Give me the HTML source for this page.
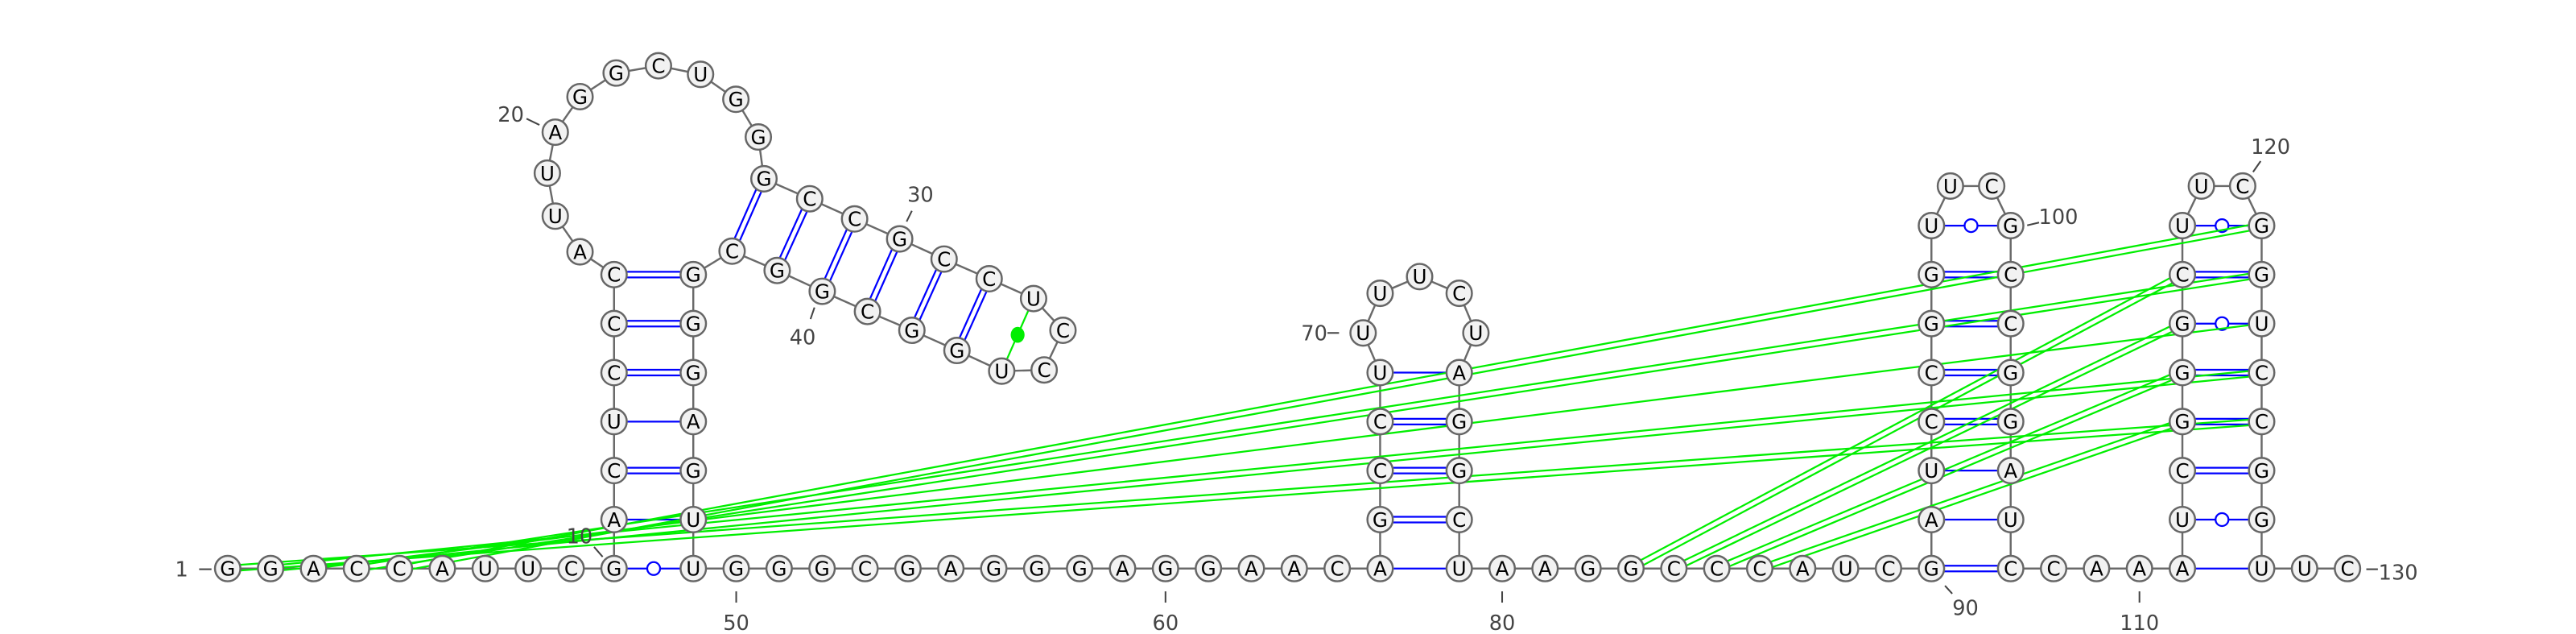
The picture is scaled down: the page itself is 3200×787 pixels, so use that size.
<!DOCTYPE html>
<html><head><meta charset="utf-8"><style>
html,body{margin:0;padding:0;background:#fff;}
svg{display:block;}
</style></head><body>
<svg id="rna" xmlns="http://www.w3.org/2000/svg" width="3200" height="787" viewBox="0 0 1560.2 383.7" preserveAspectRatio="none">
<rect width="1560.2" height="383.7" fill="#fff"/>
<g id="gBack"></g><g id="gPair"></g><g id="gPk"></g><g id="gNode"></g><g id="gLab"></g>
</svg>
<script>
const sequence = ("GGACCAUUCG"+"ACUCCC"+"AUUAGGCUGG"+"GCCGCCUCCUGGCGGC"+"GGGAGU"+"UGGGCGAGGGAGGAACA"+"GCCU"+"UUUCU"+"AGGCU"+"AAGGCCCAUCG"+"AUCCGGU"+"UC"+"GCCGGAUC"+"CAAA"+"UCGGGCU"+"UC"+"GGUCCGGU"+"UC").split("");
const pairI = [10,11,12,13,14,15,16, 27,28,29,30,31,32, 65,66,67,68,69, 90,91,92,93,94,95,96,97, 111,112,113,114,115,116,117,118];
const pairJ = [49,48,47,46,45,44,43, 42,41,40,39,38,37, 79,78,77,76,75, 107,106,105,104,103,102,101,100, 128,127,126,125,124,123,122,121];
const pairT = ["w","s","c","s","c","c","c", "c","c","c","c","c","c", "s","c","c","c","s", "c","s","s","c","c","c","c","w", "s","w","c","c","c","w","c","w"];
const pkI = [1,2,3,4,5,83,84,85,86];
const pkJ = [125,124,123,122,121,117,116,115,114];
const pkT = ["c","c","s","c","c","c","c","c","c"];
const nonCanI = [33];
const nonCanJ = [36];
const labelNums = [1,10,20,30,40,50,60,70,80,90,100,110,120,130];

const NS="http://www.w3.org/2000/svg";
function mk(tag,attrs,parent){const e=document.createElementNS(NS,tag);for(const k in attrs)e.setAttribute(k,attrs[k]);parent.appendChild(e);return e;}
const BY=344.1, ROW=29.65;
function row(k){return BY-ROW*k;}
const P={};
function setP(i,x,y){P[i]=[x,y];}
for(let i=1;i<=10;i++)setP(i,137.9+(i-1)*26,BY);
for(let i=49;i<=65;i++)setP(i,419.9+(i-49)*26,BY);
for(let i=79;i<=90;i++)setP(i,883.8+(i-79)*26,BY);
for(let i=107;i<=111;i++)setP(i,1217.8+(i-107)*26,BY);
for(let i=128;i<=130;i++)setP(i,1369.8+(i-128)*26,BY);
for(let k=1;k<=6;k++){setP(10+k,371.9,row(k));setP(49-k,419.9,row(k));}
const loop1=[[351.3,152.4],[336.3,130.8],[331.5,104.8],[336.3,80.0],[351.3,58.5],[373.2,44.2],[398.8,39.8],[424.3,45.0],[445.7,60.1],[459.3,82.9]];
loop1.forEach((p,n)=>setP(17+n,p[0],p[1]));
const st2=[[462.7,108.2],[490.4,120.3],[517.6,132.5],[544.9,144.6],[571.8,156.8],[599.1,168.7],[626.0,180.7],[643.8,199.9],[632.4,223.9],[606.7,224.6],[579.6,212.1],[552.3,199.9],[525.4,188.5],[498.0,176.3],[470.7,163.7],[443.4,152.0]];
st2.forEach((p,n)=>setP(27+n,p[0],p[1]));
for(let k=1;k<=4;k++){setP(65+k,835.9,row(k));setP(79-k,883.8,row(k));}
[[825.6,201.5],[835.9,177.5],[859.8,167.4],[883.8,177.5],[893.9,201.5]].forEach((p,n)=>setP(70+n,p[0],p[1]));
for(let k=1;k<=7;k++){setP(90+k,1169.8,row(k));setP(107-k,1217.8,row(k));setP(111+k,1321.8,row(k));setP(128-k,1369.8,row(k));}
setP(98,1181.3,112.6);setP(99,1206.3,112.6);setP(119,1333.3,112.6);setP(120,1358.3,112.6);

const gB=document.getElementById('gBack'),gP=document.getElementById('gPair'),gK=document.getElementById('gPk'),gN=document.getElementById('gNode'),gL=document.getElementById('gLab');
for(let i=1;i<sequence.length;i++){
  const a=P[i],b=P[i+1];
  const l=mk('line',{x1:a[0],y1:a[1],x2:b[0],y2:b[1],stroke:'#6a6a6a','stroke-width':1.2},gB);
  
  
}
function pairLines(parent,i,j,t,color,name){
  const a=P[i],b=P[j];const dx=b[0]-a[0],dy=b[1]-a[1];const L=Math.hypot(dx,dy);const nx=-dy/L,ny=dx/L;
  const g=mk('g',{},parent);
  
  
  if(t==='c'){
    const o=1.7;
    mk('line',{x1:a[0]+nx*o,y1:a[1]+ny*o,x2:b[0]+nx*o,y2:b[1]+ny*o,stroke:color,'stroke-width':1.1},g);
    mk('line',{x1:a[0]-nx*o,y1:a[1]-ny*o,x2:b[0]-nx*o,y2:b[1]-ny*o,stroke:color,'stroke-width':1.1},g);
  } else {
    mk('line',{x1:a[0],y1:a[1],x2:b[0],y2:b[1],stroke:color,'stroke-width':1.1},g);
    if(t==='w') mk('circle',{cx:(a[0]+b[0])/2,cy:(a[1]+b[1])/2,r:3.9,fill:'#fff',stroke:color,'stroke-width':1.1},g);
  }
}
for(let n=0;n<pairI.length;n++) pairLines(gP,pairI[n],pairJ[n],pairT[n],'#0000ff','base-pair-'+pairI[n]+'-'+pairJ[n]);
for(let n=0;n<pkI.length;n++) pairLines(gK,pkI[n],pkJ[n],pkT[n],'#00ee00','pseudoknot-pair-'+pkI[n]+'-'+pkJ[n]);
for(let n=0;n<nonCanI.length;n++){
  const a=P[nonCanI[n]],b=P[nonCanJ[n]];
  const g=mk('g',{},gK);
  
  
  mk('line',{x1:a[0],y1:a[1],x2:b[0],y2:b[1],stroke:'#00ee00','stroke-width':1.1},g);
  mk('ellipse',{cx:(a[0]+b[0])/2,cy:(a[1]+b[1])/2,rx:4.2,ry:4.8,fill:'#00ee00'},g);
}
for(let i=1;i<=sequence.length;i++){
  const p=P[i];
  const g=mk('g',{},gN);
  
  
  mk('circle',{cx:p[0],cy:p[1],r:7.7,fill:'#f2f2f2',stroke:'#666','stroke-width':1.2},g);
  const t=mk('text',{x:p[0],y:p[1]+4.3,'text-anchor':'middle','font-family':'DejaVu Sans, Liberation Sans, sans-serif','font-size':12,fill:'#000'},g);
  t.textContent=sequence[i-1];
}
// labels: [num, textX, textY, anchor, tickX1,tickY1,tickX2,tickY2]
const labPos={1:[110,344.5,'middle',120.6,344.5,128.1,344.5],10:[351,324.5,'middle',359.8,331,365,337],20:[309.4,69.1,'middle',318.9,71.8,326.7,75.6],
30:[557.5,117.8,'middle',552.3,127.6,549.1,134.1],40:[486.1,204,'middle',493.3,186.1,490.9,193.1],50:[P[50][0],376.9,'middle',P[50][0],357.9,P[50][0],364.7],
60:[P[60][0],376.9,'middle',P[60][0],357.9,P[60][0],364.7],70:[796,201.5,'middle',804,201.5,811,201.5],80:[P[80][0],376.9,'middle',P[80][0],357.9,P[80][0],364.7],
90:[1190.4,367.9,'middle',1178,354.5,1182.4,359.3],100:[1246.7,131.1,'middle',1227.8,136.4,1235,134.7],110:[P[110][0],376.9,'middle',P[110][0],357.9,P[110][0],364.7],
120:[1375.2,88.7,'middle',1369.2,97.5,1364.6,104.1],130:[1452.5,346.5,'middle',1433.2,344.5,1440.2,344.5]};
labelNums.forEach(num=>{
  const L=labPos[num];
  const g=mk('g',{},gL);
  
  
  mk('line',{x1:L[3],y1:L[4],x2:L[5],y2:L[6],stroke:'#444','stroke-width':1},g);
  const t=mk('text',{x:L[0],y:L[1]+4.4,'text-anchor':L[2],'font-family':'DejaVu Sans, Liberation Sans, sans-serif','font-size':12.5,fill:'#444'},g);
  t.textContent=String(num);
});
</script>
</body></html>
